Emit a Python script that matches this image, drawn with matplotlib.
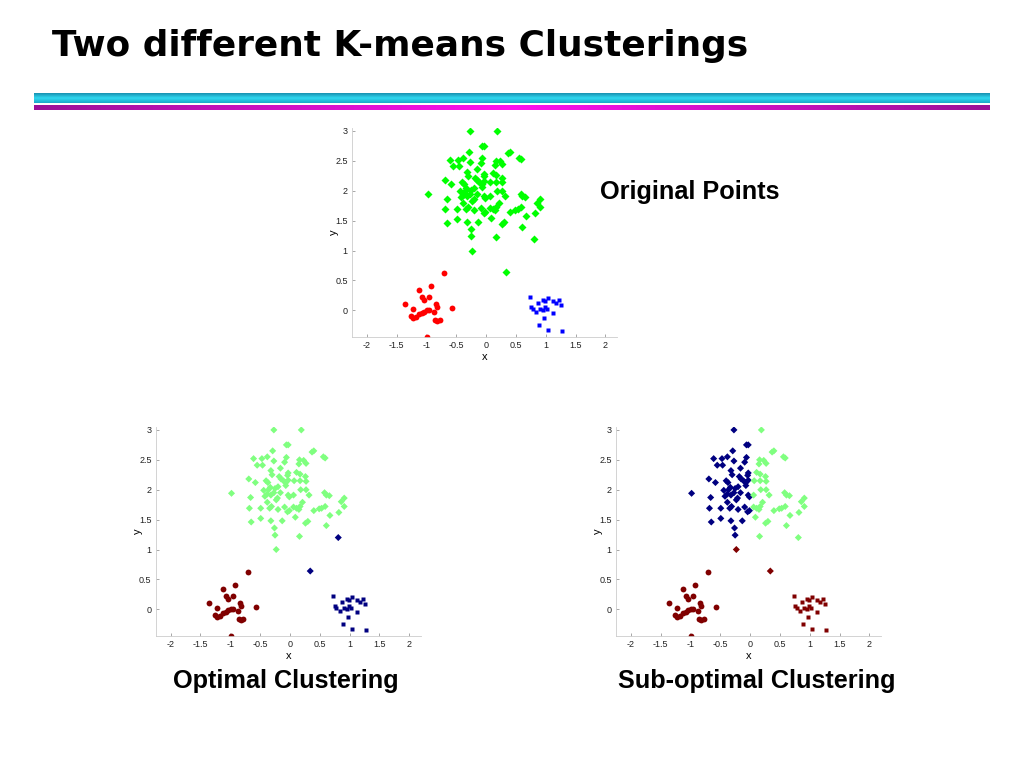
import matplotlib
matplotlib.use('Agg')
import matplotlib.pyplot as plt
import numpy as np
from matplotlib.colors import LinearSegmentedColormap

plt.rcParams['font.family'] = ['Liberation Sans', 'DejaVu Sans']

# Originalpunkte: grosse Wolke (Rauten)
green_x = [-0.27, 0.19, -0.06, -0.03, 0.40, 0.37, -0.29, -0.61, -0.47, -0.38,
           -0.27, -0.06, -0.09, 0.16, 0.23, 0.15, 0.27, 0.56, 0.59, -0.55,
           -0.46, -0.32, -0.30, -0.16, -0.03, 0.11, 0.17, 0.26, -0.69, -0.58,
           -0.40, -0.37, -0.18, -0.15, -0.11, -0.04, -0.07, -0.03, 0.07, 0.17,
           0.27, -0.98, -0.66, -0.44, -0.36, -0.33, -0.25, -0.20, -0.07, -0.38,
           -0.42, -0.32, -0.27, -0.16, -0.03, -0.01, 0.06, 0.18, 0.27, 0.32,
           0.21, 0.58, 0.61, 0.66, 0.91, 0.86, -0.68, -0.49, -0.38, -0.34,
           -0.31, -0.20, -0.23, -0.21, -0.09, -0.04, -0.01, 0.06, 0.11, 0.15,
           0.17, 0.40, 0.49, 0.53, 0.59, 0.67, 0.82, 0.91, -0.65, -0.49,
           -0.32, -0.13, 0.09, 0.26, 0.30, 0.61, -0.26, -0.25, 0.16, 0.81,
           -0.23, 0.34]
green_y = [3.00, 3.00, 2.75, 2.75, 2.65, 2.63, 2.65, 2.52, 2.52, 2.55,
           2.48, 2.54, 2.46, 2.50, 2.49, 2.43, 2.44, 2.55, 2.53, 2.41,
           2.41, 2.32, 2.25, 2.36, 2.28, 2.29, 2.26, 2.22, 2.18, 2.12,
           2.15, 2.12, 2.22, 2.18, 2.15, 2.24, 2.12, 2.16, 2.15, 2.15,
           2.14, 1.94, 1.87, 1.99, 2.00, 2.04, 2.02, 2.05, 2.07, 1.93,
           1.89, 1.91, 1.95, 1.95, 1.91, 1.88, 1.91, 2.00, 2.00, 1.91,
           1.79, 1.95, 1.91, 1.90, 1.86, 1.80, 1.69, 1.69, 1.79, 1.69,
           1.72, 1.67, 1.83, 1.86, 1.71, 1.63, 1.65, 1.71, 1.69, 1.67,
           1.72, 1.65, 1.68, 1.69, 1.72, 1.57, 1.62, 1.72, 1.46, 1.52,
           1.48, 1.48, 1.54, 1.44, 1.47, 1.40, 1.36, 1.24, 1.22, 1.20,
           1.00, 0.64]

# kleine Wolke links (Kreise)
red_x = [-0.70, -0.92, -1.12, -1.07, -1.04, -0.95, -1.36, -1.22, -0.84, -0.82,
         -0.57, -1.25, -1.22, -1.17, -1.13, -1.08, -1.04, -0.99, -0.96, -0.87,
         -0.85, -0.82, -0.78, -0.99]
red_y = [0.62, 0.41, 0.34, 0.23, 0.18, 0.22, 0.11, 0.02, 0.10, 0.06,
         0.04, -0.09, -0.13, -0.12, -0.06, -0.04, -0.02, 0.01, 0.01, -0.03,
         -0.16, -0.18, -0.17, -0.45]

# kleine Wolke rechts (Quadrate)
blue_x = [0.73, 0.75, 0.78, 0.87, 0.96, 0.99, 1.04, 1.12, 1.22, 1.18,
          1.25, 0.84, 0.91, 0.96, 1.02, 0.99, 0.97, 1.12, 0.89, 1.04, 1.27]
blue_y = [0.23, 0.05, 0.03, 0.12, 0.17, 0.15, 0.20, 0.15, 0.18, 0.13,
          0.09, -0.03, 0.02, 0.01, 0.02, 0.06, -0.13, -0.04, -0.25, -0.33, -0.34]

# Clusterzuordnung der Rauten (g = hellgruen, b = dunkelblau, r = dunkelrot)
opt_labels = list('g' * 99 + 'bgb')
sub_labels = list('bgbbggbbbbbbb' + 'gggggg' + 'bbbbbb' + 'ggg' + 'bbbbbbbbbb'
                  + 'ggg' + 'bbbbbbbbbbbbbbb' + 'gggggggggg' + 'bbbbbbbbbbb'
                  + 'ggggggggggg' + 'bbbb' + 'gggg' + 'bb' + 'gg' + 'rr')

xticks = [-2, -1.5, -1, -0.5, 0, 0.5, 1, 1.5, 2]
xtick_labels = ['-2', '-1.5', '-1', '-0.5', '0', '0.5', '1', '1.5', '2']
yticks = [0, 0.5, 1, 1.5, 2, 2.5, 3]
ytick_labels = ['0', '0.5', '1', '1.5', '2', '2.5', '3']

cmap_lab = {'g': '#80ff80', 'b': '#000080', 'r': '#800000'}

fig = plt.figure(figsize=(10.24, 7.68), dpi=100)

# Hintergrund mit Titel und Farbbalken
bg = fig.add_axes([0, 0, 1, 1], zorder=0)
bg.axis('off')
cyan = LinearSegmentedColormap.from_list('c', ['#1890b0', '#30d8f0', '#1aa8c8'])
bg.imshow(np.linspace(0, 1, 50).reshape(-1, 1), cmap=cyan, aspect='auto',
          extent=(34, 990, 103, 93))
mag = LinearSegmentedColormap.from_list('m', ['#9a1098', '#ff10f0', '#9a1098'])
bg.imshow(np.linspace(0, 1, 200).reshape(1, -1), cmap=mag, aspect='auto',
          extent=(34, 990, 110.5, 106))
bg.set_xlim(0, 1024)
bg.set_ylim(768, 0)
bg.text(52, 46, 'Two different K-means Clusterings', fontsize=25.8,
        fontweight='bold', family='DejaVu Sans', va='center', ha='left')
bg.text(690, 192, 'Original Points', fontsize=18.2, fontweight='bold',
        ha='center', va='center')
bg.text(286, 681, 'Optimal Clustering', fontsize=18.2, fontweight='bold',
        ha='center', va='center')
bg.text(757, 681, 'Sub-optimal Clustering', fontsize=18.2, fontweight='bold',
        ha='center', va='center')


def style(ax):
    ax.set_xlim(-2.25, 2.2)
    ax.set_ylim(-0.45, 3.05)
    ax.set_xticks(xticks)
    ax.set_xticklabels(xtick_labels)
    ax.set_yticks(yticks)
    ax.set_yticklabels(ytick_labels)
    ax.tick_params(direction='in', length=2, width=0.6, color='#999999',
                   labelsize=6.5, labelcolor='#222222', pad=3)
    for s in ['top', 'right']:
        ax.spines[s].set_visible(False)
    for s in ['left', 'bottom']:
        ax.spines[s].set_color('#cccccc')
        ax.spines[s].set_linewidth(0.6)
    ax.set_xlabel('x', fontsize=8, labelpad=1.5)
    ax.set_ylabel('y', fontsize=8, labelpad=-2.5)
    ax.patch.set_alpha(0)


ms_d, ms_o, ms_s = 3.6, 4.2, 3.4

# Originalpunkte
ax1 = fig.add_axes([0.3436, 0.5609, 0.2592, 0.2725], zorder=1)
ax1.plot(green_x, green_y, 'D', color='#00ff00', ms=ms_d, mec='none')
ax1.plot(red_x, red_y, 'o', color='#ff0000', ms=ms_o, mec='none')
ax1.plot(blue_x, blue_y, 's', color='#0000ff', ms=ms_s, mec='none')
style(ax1)

# optimale und suboptimale Clusterung
for left, labels, right_col in [(0.1521, opt_labels, '#000080'),
                                (0.6014, sub_labels, '#800000')]:
    ax = fig.add_axes([left, 0.1716, 0.2592, 0.2725], zorder=1)
    cols = [cmap_lab[c] for c in labels]
    ax.scatter(green_x, green_y, marker='D', c=cols, s=ms_d ** 2, linewidths=0)
    ax.plot(red_x, red_y, 'o', color='#800000', ms=ms_o, mec='none')
    ax.plot(blue_x, blue_y, 's', color=right_col, ms=ms_s, mec='none')
    style(ax)

plt.savefig('out.png', dpi=100)
